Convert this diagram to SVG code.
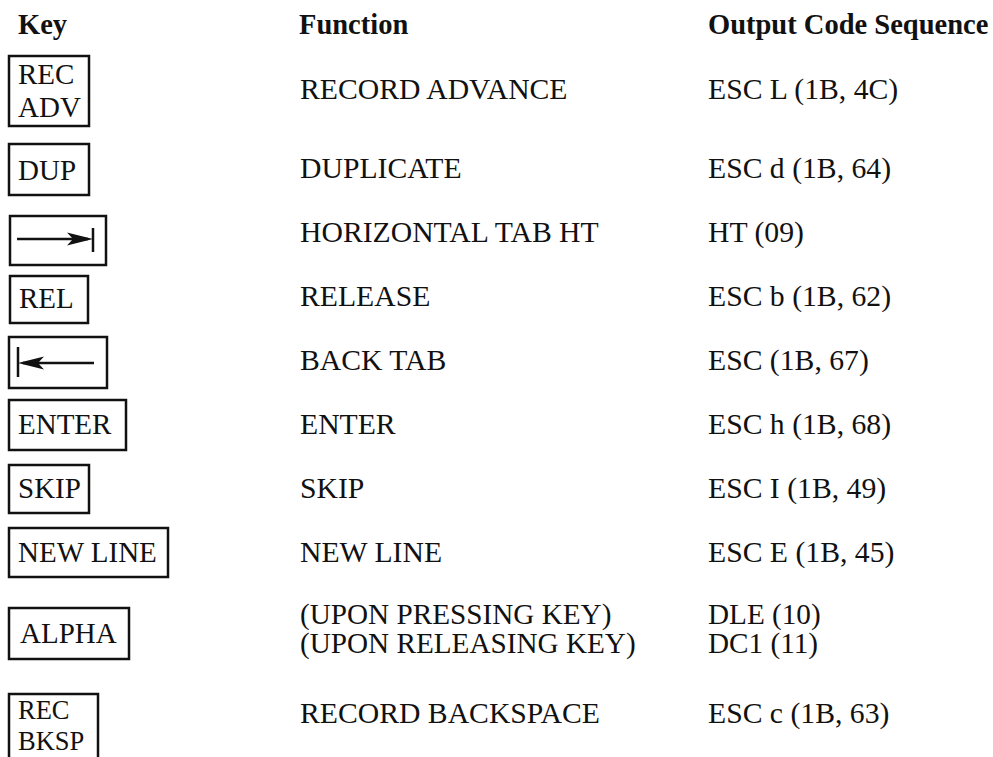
<svg xmlns="http://www.w3.org/2000/svg" width="993" height="757" viewBox="0 0 993 757">
<style>
text{font-family:"Liberation Serif","Times New Roman",serif;font-size:29.7px;fill:#111}
.h{font-weight:bold;font-size:28.5px}
.kt{font-size:29px}
.kb{font-size:26.5px}
.sm{font-size:29.2px}
.k{fill:#fff;stroke:#111;stroke-width:2.5}
.ln{stroke:#111;stroke-width:2.5;fill:none}
.ah{fill:#111}
</style>
<rect width="993" height="757" fill="#fff"/>
<g id="headers">
<text class="h" x="18" y="34">Key</text>
<text class="h" x="299" y="34">Function</text>
<text class="h" x="708" y="34">Output Code Sequence</text>
</g>
<g id="row-rec-adv">
<rect class="k" x="9" y="56" width="80" height="70"/>
<text class="kt" x="18" y="84">REC</text>
<text class="kt" x="18" y="117">ADV</text>
<text x="300" y="99">RECORD ADVANCE</text>
<text x="708" y="99">ESC L (1B, 4C)</text>
</g>
<g id="row-dup">
<rect class="k" x="9" y="144" width="80" height="51"/>
<text class="kt" x="18" y="180">DUP</text>
<text x="300" y="178">DUPLICATE</text>
<text x="708" y="178">ESC d (1B, 64)</text>
</g>
<g id="row-tab">
<rect class="k" x="10" y="216" width="96" height="49"/>
<line class="ln" x1="17" y1="239" x2="88" y2="239"/>
<polygon class="ah" points="93,239 67,232.5 73,239 67,245.5"/>
<line class="ln" x1="93" y1="228" x2="93" y2="252"/>
<text x="300" y="242">HORIZONTAL TAB HT</text>
<text x="708" y="242">HT (09)</text>
</g>
<g id="row-rel">
<rect class="k" x="10" y="276" width="78" height="47"/>
<text class="kt" x="19" y="308">REL</text>
<text x="300" y="306">RELEASE</text>
<text x="708" y="306">ESC b (1B, 62)</text>
</g>
<g id="row-backtab">
<rect class="k" x="9" y="337" width="98" height="51"/>
<line class="ln" x1="18" y1="347" x2="18" y2="377"/>
<line class="ln" x1="23" y1="363" x2="94" y2="363"/>
<polygon class="ah" points="18,363 44,356.5 38,363 44,369.5"/>
<text x="300" y="370">BACK TAB</text>
<text x="708" y="370">ESC (1B, 67)</text>
</g>
<g id="row-enter">
<rect class="k" x="9" y="400" width="117" height="50"/>
<text class="kt" x="18" y="434">ENTER</text>
<text x="300" y="434">ENTER</text>
<text x="708" y="434">ESC h (1B, 68)</text>
</g>
<g id="row-skip">
<rect class="k" x="9" y="465" width="80" height="48"/>
<text class="kt" x="18" y="498">SKIP</text>
<text x="300" y="498">SKIP</text>
<text x="708" y="498">ESC I (1B, 49)</text>
</g>
<g id="row-newline">
<rect class="k" x="9" y="528" width="159" height="49"/>
<text class="kt" x="18" y="562">NEW LINE</text>
<text x="300" y="562">NEW LINE</text>
<text x="708" y="562">ESC E (1B, 45)</text>
</g>
<g id="row-alpha">
<rect class="k" x="9" y="608" width="120" height="51"/>
<text class="kt" x="20" y="643">ALPHA</text>
<text class="sm" x="300" y="624">(UPON PRESSING KEY)</text>
<text class="sm" x="300" y="653">(UPON RELEASING KEY)</text>
<text class="sm" x="708" y="624">DLE (10)</text>
<text class="sm" x="708" y="653">DC1 (11)</text>
</g>
<g id="row-rec-bksp">
<rect class="k" x="9" y="694" width="89" height="80"/>
<text class="kb" x="18" y="719">REC</text>
<text class="kb" x="18" y="750">BKSP</text>
<text x="300" y="723">RECORD BACKSPACE</text>
<text x="708" y="723">ESC c (1B, 63)</text>
</g>
<g id="connectors"/>
</svg>
